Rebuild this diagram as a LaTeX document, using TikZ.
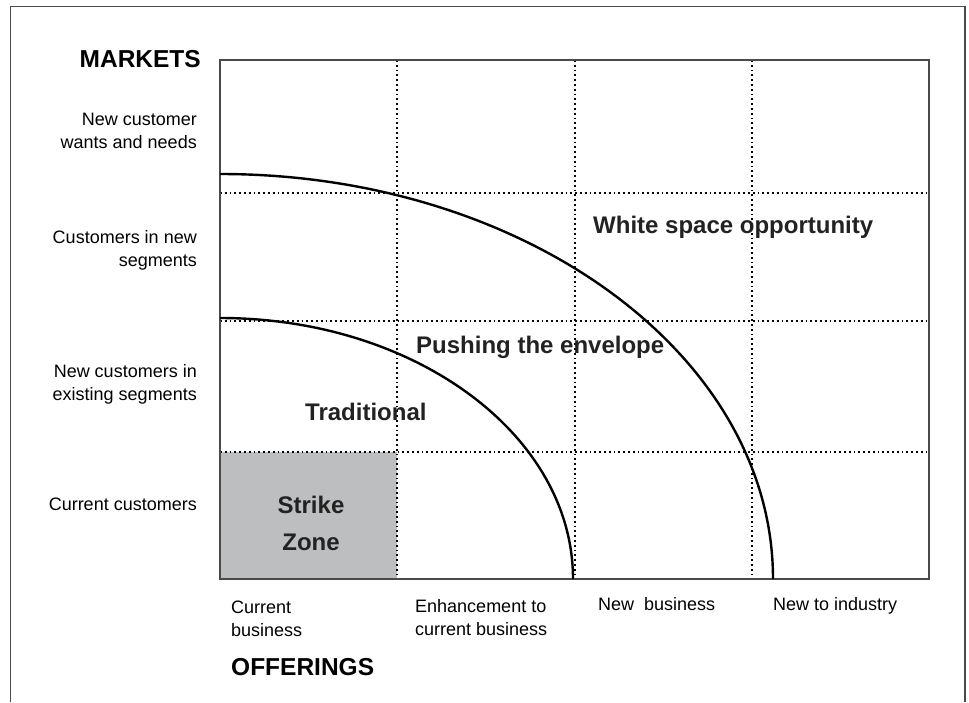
\documentclass[tikz,border=0pt]{standalone}
\usepackage{fontspec}
\setmainfont{Liberation Sans}
\definecolor{zonegray}{HTML}{BDBEC0}
\definecolor{framegray}{HTML}{4A4A4A}
\definecolor{labeldark}{HTML}{222222}
\tikzset{
  rowlabel/.style={anchor=base east, align=right, inner sep=0pt, font=\fontsize{18}{22.5}\selectfont},
  collabel/.style={anchor=base west, align=left, inner sep=0pt, font=\fontsize{18}{23}\selectfont},
  axislabel/.style={inner sep=0pt, font=\fontsize{24.5}{28}\selectfont\bfseries},
  zonelabel/.style={inner sep=0pt, text=labeldark, font=\fontsize{24}{37}\selectfont\bfseries},
  gridline/.style={line width=1.8pt, dash pattern=on 1.8pt off 3pt},
}
\begin{document}
\begin{tikzpicture}[x=1pt, y=-1pt]
    \useasboundingbox (0,0) rectangle (969,702);

    % Outer frame (open at the bottom)
    \draw[framegray, line width=1.2pt] (10.5,702) -- (10.5,6.5) -- (965,6.5) -- (965,702);

    % Strike zone cell
    \fill[zonegray] (220,452) rectangle (397,579);

    % Dotted grid
    \foreach \gx in {397,575,752}
        \draw[gridline] (\gx,60) -- (\gx,579);
    \foreach \gy in {193,321,452}
        \draw[gridline] (220,\gy) -- (929,\gy);

    % Chart box
    \draw[framegray, line width=1.5pt] (220,60) rectangle (929,579);

    % Zone boundaries
    \draw[line width=2.4pt] (220,318) arc[start angle=90, end angle=0, x radius=353pt, y radius=261pt];
    \draw[line width=2.4pt] (220,174) arc[start angle=90, end angle=0, x radius=553pt, y radius=405pt];

    % Axis titles
    \node[axislabel, anchor=base east] (markets) at (201,67) {MARKETS};
    \node[axislabel, anchor=base west] (offerings) at (231,675) {OFFERINGS};

    % Market rows (base = last line)
    \node[rowlabel] (wants) at (197,148) {New customer\\wants and needs};
    \node[rowlabel] (segnew) at (197,266) {Customers in new\\segments};
    \node[rowlabel] (segold) at (197,400) {New customers in\\existing segments};
    \node[rowlabel] (current) at (197,510) {Current customers};

    % Offering columns
    \node[collabel] (curbiz) at (231,636) {Current\\business};
    \node[collabel] (enhance) at (415,635) {Enhancement to\\current business};
    \node[collabel] (newbiz) at (598,610) {New\ \ business};
    \node[collabel] (industry) at (773,610) {New to industry};

    % Zone labels
    \node[zonelabel, anchor=base, align=center] (strike) at (311,550) {Strike\\Zone};
    \node[zonelabel, anchor=base west] (trad) at (305,420) {Traditional};
    \node[zonelabel, anchor=base west] (envelope) at (416,353) {Pushing the envelope};
    \node[zonelabel, anchor=base west] (white) at (593,233) {White space opportunity};
\end{tikzpicture}
\end{document}
